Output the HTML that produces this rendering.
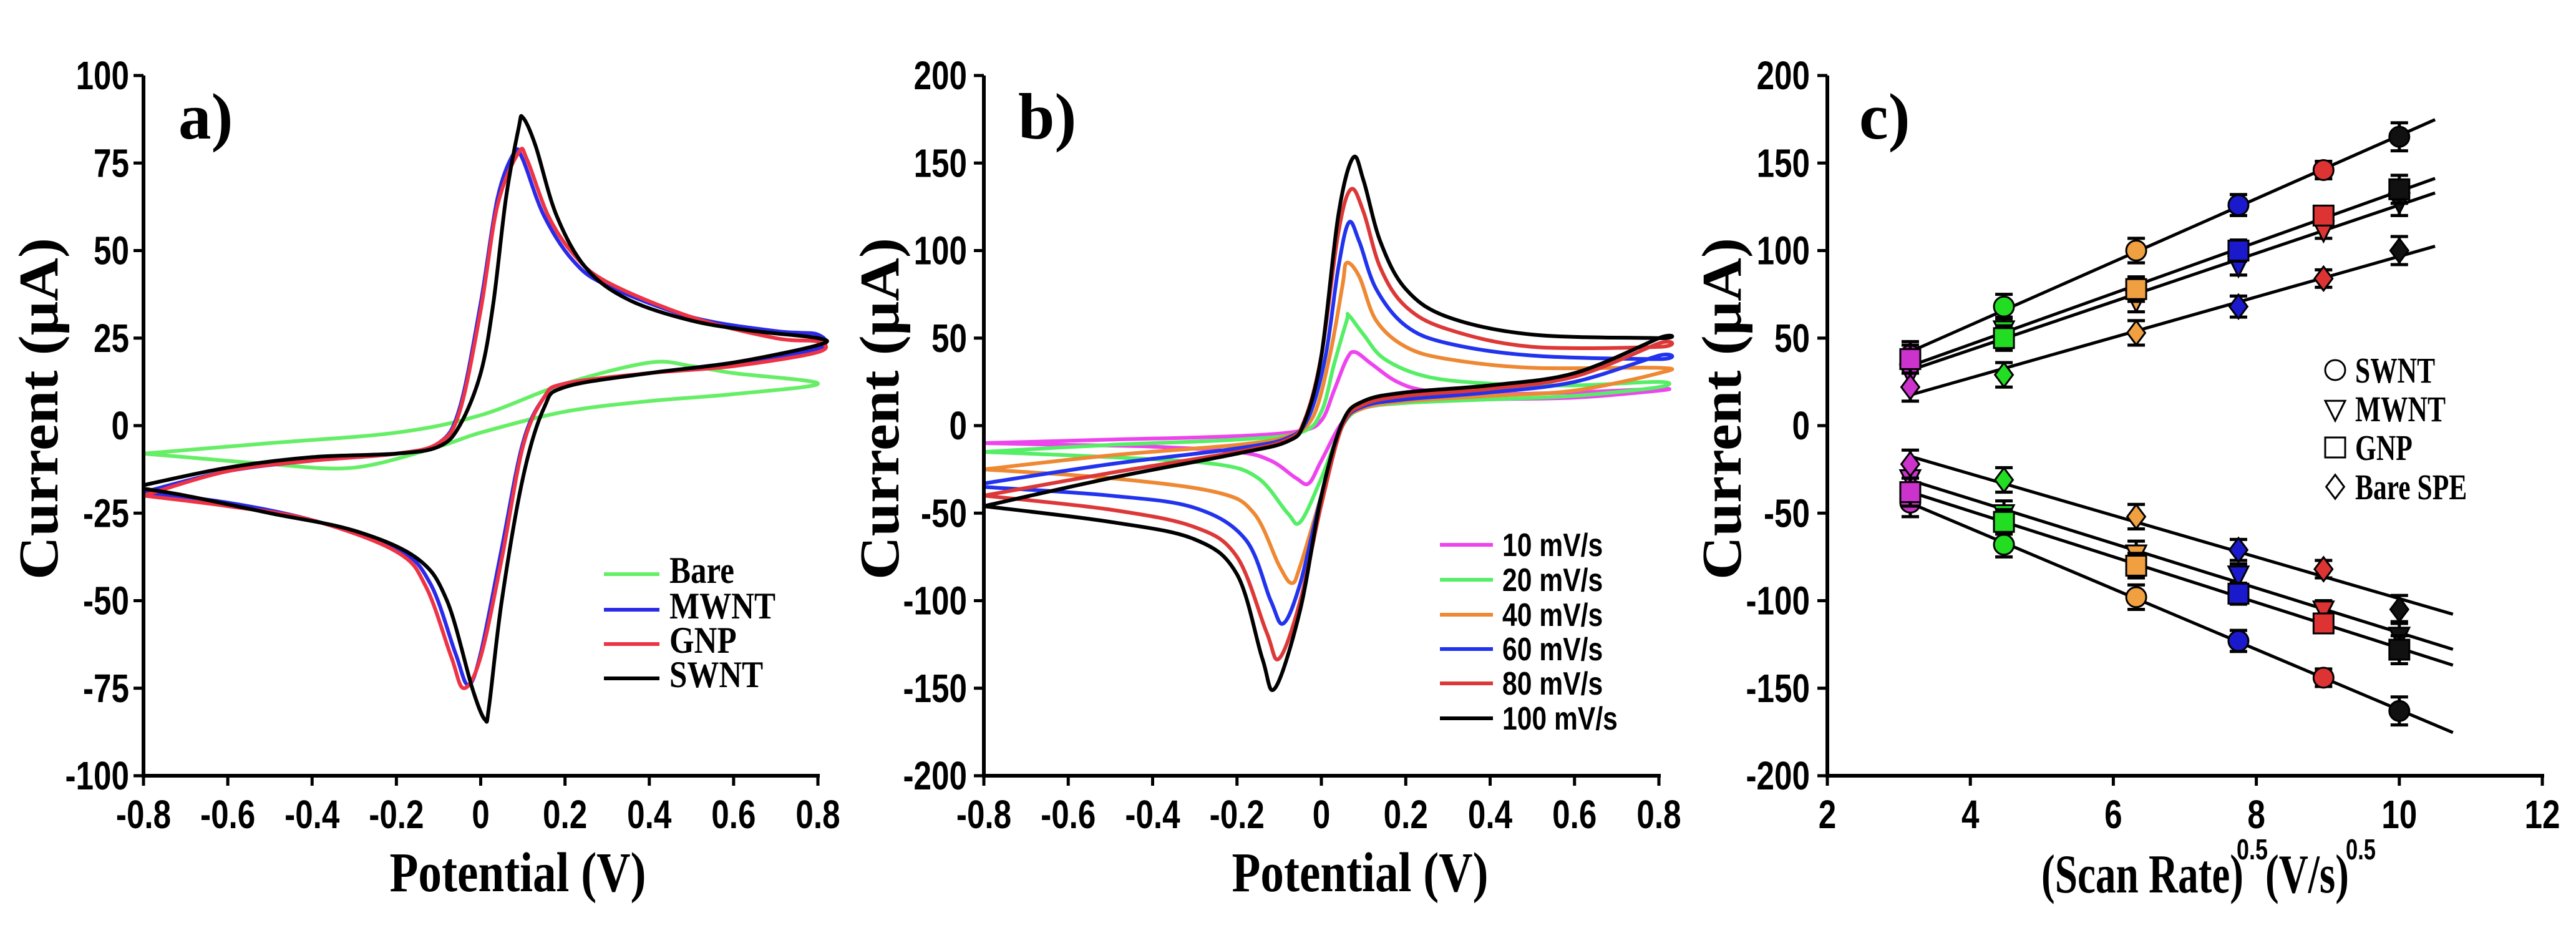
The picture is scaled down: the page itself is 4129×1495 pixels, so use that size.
<!DOCTYPE html>
<html><head><meta charset="utf-8"><style>
html,body{margin:0;padding:0;background:#fff;}
svg{display:block;}
</style></head><body>
<svg id="fig" width="4129" height="1495" viewBox="0 0 4129 1495" xmlns="http://www.w3.org/2000/svg"></svg>
<script>
// ---------- Panel a data ----------
const aSeriesNames = ['Bare','MWNT','GNP','SWNT'];
const aColors = ['#66ee66','#2a2ae8','#ee3344','#000000'];
const aBare = [[-0.8,-8],[-0.5,-5],[-0.2,-2],[0,3],[0.2,12],[0.4,18],[0.5,17],[0.6,15],[0.8,12],[0.6,9],[0.4,7],[0.2,4],[0,-2],[-0.1,-6],[-0.3,-12],[-0.5,-11],[-0.7,-9],[-0.8,-8]];
const aMWNT = [[-0.8,-19],[-0.6,-13],[-0.4,-10],[-0.2,-8],[-0.1,-5],[-0.05,5],[0,35],[0.04,65],[0.08,78],[0.1,76],[0.15,60],[0.22,47],[0.3,40],[0.5,31],[0.7,27],[0.8,26],[0.8,22],[0.6,18],[0.4,15],[0.2,12],[0.15,8],[0.1,-5],[0.05,-35],[0.0,-65],[-0.03,-74],[-0.06,-65],[-0.12,-45],[-0.2,-35],[-0.4,-27],[-0.6,-22],[-0.8,-19]];
const aGNP = [[-0.8,-20],[-0.6,-13],[-0.4,-10],[-0.2,-8],[-0.1,-5],[-0.05,4],[0,33],[0.04,63],[0.09,78],[0.11,76],[0.16,60],[0.22,49],[0.3,41],[0.5,31],[0.7,25],[0.8,24],[0.8,21],[0.6,17],[0.4,15],[0.2,12],[0.15,8],[0.1,-6],[0.05,-38],[0.0,-66],[-0.04,-75],[-0.07,-66],[-0.13,-46],[-0.2,-36],[-0.4,-27],[-0.6,-23],[-0.8,-20]];
const aSWNT = [[-0.8,-17],[-0.6,-12],[-0.4,-9],[-0.2,-8],[-0.1,-6],[-0.05,0],[0,15],[0.03,35],[0.06,65],[0.09,85],[0.1,88],[0.13,80],[0.18,60],[0.25,45],[0.35,36],[0.5,30],[0.65,27],[0.8,25],[0.8,23],[0.6,18],[0.4,15],[0.2,11],[0.15,5],[0.1,-15],[0.05,-50],[0.02,-80],[0.01,-84],[-0.02,-75],[-0.08,-50],[-0.15,-38],[-0.3,-30],[-0.5,-25],[-0.7,-20],[-0.8,-18]];
const aYTicks = [-100,-75,-50,-25,0,25,50,75,100];
const aXTicks = [-0.8,-0.6,-0.4,-0.2,0,0.2,0.4,0.6,0.8];

// ---------- Panel b data ----------
const bSeriesNames = ['10 mV/s','20 mV/s','40 mV/s','60 mV/s','80 mV/s','100 mV/s'];
const bColors = ['#ee44ee','#55ee66','#ee8833','#2233ee','#dd3838','#000000'];
const b10 = [[-0.8,-10],[-0.5,-8],[-0.2,-6],[-0.05,-3],[0.0,3],[0.03,20],[0.06,38],[0.08,42],[0.12,35],[0.18,25],[0.25,20],[0.4,18],[0.6,19],[0.8,21],[0.8,20],[0.6,16],[0.4,15],[0.2,13],[0.1,10],[0.05,2],[0.0,-20],[-0.03,-33],[-0.06,-30],[-0.12,-20],[-0.2,-15],[-0.4,-12],[-0.6,-11],[-0.8,-10]];
const b20 = [[-0.8,-15],[-0.5,-11],[-0.2,-8],[-0.05,-4],[0,8],[0.03,35],[0.06,60],[0.065,63],[0.1,52],[0.15,38],[0.25,28],[0.4,24],[0.6,23],[0.8,25],[0.8,22],[0.6,17],[0.4,15],[0.2,13],[0.1,10],[0.05,0],[0,-30],[-0.05,-55],[-0.08,-50],[-0.15,-30],[-0.25,-22],[-0.5,-18],[-0.8,-15]];
const b40 = [[-0.8,-25],[-0.5,-17],[-0.2,-11],[-0.08,-6],[-0.02,5],[0.02,40],[0.05,80],[0.06,93],[0.09,85],[0.13,60],[0.2,45],[0.3,38],[0.5,33],[0.8,33],[0.8,30],[0.6,20],[0.4,17],[0.2,14],[0.1,10],[0.05,0],[0,-40],[-0.05,-80],[-0.07,-90],[-0.1,-80],[-0.16,-50],[-0.25,-38],[-0.5,-30],[-0.8,-25]];
const b60 = [[-0.8,-33],[-0.5,-22],[-0.2,-13],[-0.08,-7],[-0.03,5],[0.01,40],[0.04,90],[0.065,116],[0.09,105],[0.13,78],[0.2,57],[0.3,47],[0.5,40],[0.8,38],[0.8,40],[0.6,25],[0.4,19],[0.2,15],[0.1,11],[0.05,0],[0,-40],[-0.05,-90],[-0.09,-113],[-0.12,-100],[-0.18,-65],[-0.3,-47],[-0.5,-40],[-0.8,-35]];
const b80 = [[-0.8,-40],[-0.5,-27],[-0.2,-15],[-0.08,-8],[-0.04,3],[0.0,40],[0.04,110],[0.07,135],[0.1,122],[0.14,90],[0.2,68],[0.3,55],[0.5,45],[0.8,45],[0.8,47],[0.6,28],[0.4,21],[0.2,17],[0.1,12],[0.05,0],[0,-45],[-0.05,-100],[-0.1,-133],[-0.13,-118],[-0.2,-75],[-0.3,-58],[-0.5,-48],[-0.8,-40]];
const b100 = [[-0.8,-46],[-0.5,-30],[-0.2,-16],[-0.08,-9],[-0.04,2],[0.0,40],[0.04,120],[0.075,153],[0.1,140],[0.14,105],[0.2,78],[0.3,62],[0.5,52],[0.8,50],[0.8,50],[0.6,30],[0.4,23],[0.2,19],[0.1,14],[0.05,2],[0,-40],[-0.05,-105],[-0.11,-150],[-0.14,-133],[-0.2,-85],[-0.3,-65],[-0.5,-55],[-0.8,-46]];
const bYTicks = [-200,-150,-100,-50,0,50,100,150,200];
const bXTicks = [-0.8,-0.6,-0.4,-0.2,0,0.2,0.4,0.6,0.8];

// ---------- Panel c data ----------
const cX = [3.16,4.47,6.32,7.75,8.94,10];
const cNames = ['SWNT','MWNT','GNP','Bare SPE'];
const cShapes = ['circle','triangle','square','diamond'];
const cAnodic = {
  SWNT:[40,68,100,126,146,165],
  MWNT:[30,55,72,92,112,128],
  GNP:[38,50,78,100,120,135],
  Bare:[22,29,53,68,84,100]
};
const cCathodic = {
  SWNT:[-44,-68,-98,-123,-144,-163],
  MWNT:[-30,-50,-73,-85,-105,-120],
  GNP:[-38,-55,-80,-96,-113,-128],
  Bare:[-22,-31,-52,-71,-82,-105]
};
const cErr = [8,7,7,6,5,8];
const cPointColors = ['#cc33cc','#22dd22','#f0a040','#1a1acc','#dd3333','#111111'];
const cYTicks = [-200,-150,-100,-50,0,50,100,150,200];
const cXTicks = [2,4,6,8,10,12];

// ---------- helpers ----------
const NS='http://www.w3.org/2000/svg';
const svg=document.getElementById('fig');
function el(tag,attrs,parent){const e=document.createElementNS(NS,tag);for(const k in attrs)e.setAttribute(k,attrs[k]);(parent||svg).appendChild(e);return e;}
function txt(x,y,s,size,family,anchor,ratio,parent){
  const t=el('text',{x:x,y:y,'font-size':size,'font-family':family,'font-weight':'bold','text-anchor':anchor||'start',fill:'#000'},parent);
  t.textContent=s;
  const w=t.getComputedTextLength();
  if(ratio&&w>0){t.setAttribute('textLength',(w*ratio).toFixed(1));t.setAttribute('lengthAdjust','spacingAndGlyphs');}
  return t;
}
const SANS='"Liberation Sans", Arial, sans-serif';
const SERIF='"Liberation Serif", "Times New Roman", serif';
function smoothPath(pts){
  let d='M'+pts[0][0].toFixed(1)+','+pts[0][1].toFixed(1);
  for(let i=0;i<pts.length-1;i++){
    const p0=pts[Math.max(0,i-1)],p1=pts[i],p2=pts[i+1],p3=pts[Math.min(pts.length-1,i+2)];
    const c1x=p1[0]+(p2[0]-p0[0])/6,c1y=p1[1]+(p2[1]-p0[1])/6;
    const c2x=p2[0]-(p3[0]-p1[0])/6,c2y=p2[1]-(p3[1]-p1[1])/6;
    d+=' C'+c1x.toFixed(1)+','+c1y.toFixed(1)+' '+c2x.toFixed(1)+','+c2y.toFixed(1)+' '+p2[0].toFixed(1)+','+p2[1].toFixed(1);
  }
  return d;
}
function makeAxes(g,X,Y,xt,yt,x0,x1,y0,y1,xfmt,yLabelRight){
  el('line',{x1:x0,y1:y1,x2:x0,y2:y0+3,stroke:'#000','stroke-width':6},g);
  el('line',{x1:x0-3,y1:y0,x2:x1+3,y2:y0,stroke:'#000','stroke-width':6},g);
  yt.forEach(v=>{const y=Y(v);
    el('line',{x1:x0-16,y1:y,x2:x0,y2:y,stroke:'#000','stroke-width':5},g);
    const t=txt(yLabelRight,y+22,String(v),64,SANS,'end',0.8,g);
    
  });
  xt.forEach(v=>{const x=X(v);
    el('line',{x1:x,y1:y0,x2:x,y2:y0+16,stroke:'#000','stroke-width':5},g);
    const t=txt(x,y0+84,xfmt(v),64,SANS,'middle',0.8,g);
    
  });
}
function lin(d0,d1,r0,r1){return v=>r0+(v-d0)*(r1-r0)/(d1-d0);}

// ---------- Panel a ----------
(function(){
  const g=el('g',{});
  const X=lin(-0.8,0.8,230,1311),Y=lin(-100,100,1243,121);
  const series=[aBare,aMWNT,aGNP,aSWNT];
  series.forEach((s,i)=>{
    const p=el('path',{d:smoothPath(s.map(q=>[X(q[0]),Y(q[1])])),fill:'none',stroke:aColors[i],'stroke-width':6,'stroke-linejoin':'round'},g);
    
    
  });
  makeAxes(g,X,Y,aXTicks,aYTicks,230,1311,1243,121,v=>v===0?'0':v.toFixed(1),207);
  const yt=el('text',{transform:'translate(92,655) rotate(-90)','font-size':90,'font-family':SERIF,'font-weight':'bold','text-anchor':'middle',textLength:548,lengthAdjust:'spacingAndGlyphs',},g);yt.textContent='Current (μA)';
  const xt=el('text',{x:830,y:1428,'font-size':90,'font-family':SERIF,'font-weight':'bold','text-anchor':'middle',textLength:411,lengthAdjust:'spacingAndGlyphs',},g);xt.textContent='Potential (V)';
  const pl=el('text',{x:286,y:222,'font-size':105,'font-family':SERIF,'font-weight':'bold',},g);pl.textContent='a)';
  const leg=el('g',{},g);
  const rows=[920,977,1032,1087];
  aSeriesNames.forEach((n,i)=>{
    const l=el('line',{x1:968,y1:rows[i],x2:1057,y2:rows[i],stroke:aColors[i],'stroke-width':6},leg);
    
    const t=txt(1073,rows[i]+14,n,60,SERIF,'start',0.85,leg);
    
  });
})();

// ---------- Panel b ----------
(function(){
  const g=el('g',{});
  const X=lin(-0.8,0.8,1577,2659),Y=lin(-200,200,1243,121);
  const series=[b10,b20,b40,b60,b80,b100];
  series.forEach((s,i)=>{
    const p=el('path',{d:smoothPath(s.map(q=>[X(q[0]),Y(q[1])])),fill:'none',stroke:bColors[i],'stroke-width':6,'stroke-linejoin':'round'},g);
    
    
  });
  makeAxes(g,X,Y,bXTicks,bYTicks,1577,2659,1243,121,v=>v===0?'0':v.toFixed(1),1550);
  const yt=el('text',{transform:'translate(1440,655) rotate(-90)','font-size':90,'font-family':SERIF,'font-weight':'bold','text-anchor':'middle',textLength:548,lengthAdjust:'spacingAndGlyphs',},g);yt.textContent='Current (μA)';
  const xt=el('text',{x:2180,y:1428,'font-size':90,'font-family':SERIF,'font-weight':'bold','text-anchor':'middle',textLength:411,lengthAdjust:'spacingAndGlyphs',},g);xt.textContent='Potential (V)';
  const pl=el('text',{x:1632,y:222,'font-size':105,'font-family':SERIF,'font-weight':'bold',},g);pl.textContent='b)';
  const leg=el('g',{},g);
  const rows=[873,929,985,1040,1095,1151];
  bSeriesNames.forEach((n,i)=>{
    const l=el('line',{x1:2308,y1:rows[i],x2:2393,y2:rows[i],stroke:bColors[i],'stroke-width':6},leg);
    
    const t=txt(2408,rows[i]+18,n,52,SANS,'start',0.82,leg);
    
  });
})();

// ---------- Panel c ----------
(function(){
  const g=el('g',{});
  const X=lin(2,12,2929,4075),Y=lin(-200,200,1243,121);
  const keys=['SWNT','MWNT','GNP','Bare'];
  function fit(ys){const n=cX.length;let sx=0,sy=0,sxx=0,sxy=0;for(let i=0;i<n;i++){sx+=cX[i];sy+=ys[i];sxx+=cX[i]*cX[i];sxy+=cX[i]*ys[i];}const m=(n*sxy-sx*sy)/(n*sxx-sx*sx);return [m,(sy-m*sx)/n];}
  function marker(shape,cx,cy,fill,parent){
    const r=16;let m;
    if(shape==='circle')m=el('circle',{cx:cx,cy:cy,r:r},parent);
    else if(shape==='square')m=el('rect',{x:cx-r,y:cy-r,width:2*r,height:2*r},parent);
    else if(shape==='triangle')m=el('polygon',{points:`${cx-r},${cy-r*0.8} ${cx+r},${cy-r*0.8} ${cx},${cy+r*1.2}`},parent);
    else m=el('polygon',{points:`${cx},${cy-r*1.2} ${cx+r*0.9},${cy} ${cx},${cy+r*1.2} ${cx-r*0.9},${cy}`},parent);
    m.setAttribute('fill',fill);m.setAttribute('stroke','#000');m.setAttribute('stroke-width',3);
    return m;
  }
  [[cAnodic,10.5],[cCathodic,10.75]].forEach(([set,xend],si)=>{
    keys.forEach((k,ki)=>{
      const ys=set[k];const [m,b]=fit(ys);
      const ln=el('line',{x1:X(3.16),y1:Y(m*3.16+b),x2:X(xend),y2:Y(m*xend+b),stroke:'#000','stroke-width':5},g);
      
      
      ys.forEach((v,i)=>{
        const x=X(cX[i]);
        const eb=el('path',{d:`M${x},${Y(v+cErr[i])}V${Y(v-cErr[i])}M${x-14},${Y(v+cErr[i])}h28M${x-14},${Y(v-cErr[i])}h28`,stroke:'#000','stroke-width':5,fill:'none'},g);
        
        const mk=marker(cShapes[ki],x,Y(v),cPointColors[i],g);
        
        
      });
    });
  });
  makeAxes(g,X,Y,cXTicks,cYTicks,2929,4075,1243,121,v=>String(v),2901);
  const yt=el('text',{transform:'translate(2790,655) rotate(-90)','font-size':90,'font-family':SERIF,'font-weight':'bold','text-anchor':'middle',textLength:548,lengthAdjust:'spacingAndGlyphs',},g);yt.textContent='Current (μA)';
  const xg=el('g',{},g);
  const t1=el('text',{x:3272,y:1430,'font-size':88,'font-family':SERIF,'font-weight':'bold',textLength:324,lengthAdjust:'spacingAndGlyphs'},xg);t1.textContent='(Scan Rate)';
  const s1=el('text',{x:3585,y:1377,'font-size':46,'font-family':SANS,'font-weight':'bold',textLength:50,lengthAdjust:'spacingAndGlyphs'},xg);s1.textContent='0.5';
  const t2=el('text',{x:3631,y:1430,'font-size':88,'font-family':SERIF,'font-weight':'bold',textLength:134,lengthAdjust:'spacingAndGlyphs'},xg);t2.textContent='(V/s)';
  const s2=el('text',{x:3760,y:1377,'font-size':46,'font-family':SANS,'font-weight':'bold',textLength:48,lengthAdjust:'spacingAndGlyphs'},xg);s2.textContent='0.5';
  const pl=el('text',{x:2980,y:222,'font-size':105,'font-family':SERIF,'font-weight':'bold',},g);pl.textContent='c)';
  const leg=el('g',{},g);
  const rows=[593,655,717,780];
  cNames.forEach((n,i)=>{
    const m=marker(cShapes[i],3743,rows[i],'none',leg);
    
    const t=txt(3775,rows[i]+20,n,58,SERIF,'start',0.75,leg);
    
  });
})();
</script>
</body></html>
